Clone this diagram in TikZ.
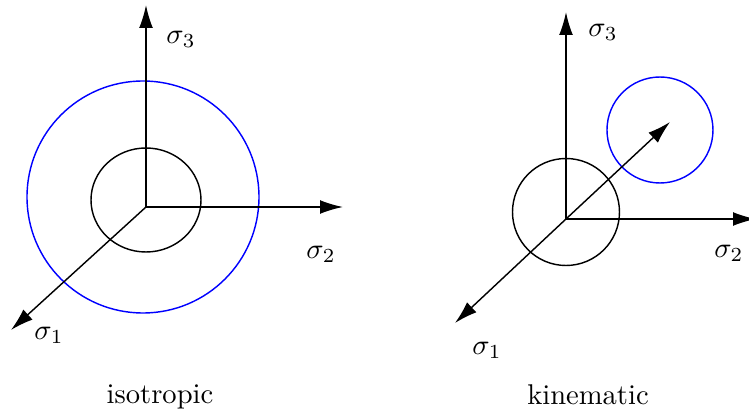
\documentclass[tikz,border=0pt]{standalone}
\usetikzlibrary{arrows.meta}
\begin{document}
\begin{tikzpicture}[x=0.35pt,y=-0.35pt,
  axis/.style={line width=0.5pt,-{Latex[length=8pt,width=4.8pt]}},
  curve/.style={line width=0.5pt},
  lbl/.style={inner sep=0pt}]
\useasboundingbox (0,0) rectangle (749,415);
% left diagram
\coordinate (oL) at (146,207);
\coordinate (zL) at (146,5);
\coordinate (yL) at (343,207);
\coordinate (xL) at (11,330);
\draw[curve,blue] (143,197) circle [radius=116];
\draw[curve] (146,200) ellipse [x radius=55,y radius=52];
\draw[axis] (oL) -- (zL);
\draw[axis] (oL) -- (yL);
\draw[axis] (oL) -- (xL);
\node[lbl] (s3L) at (181,39) {$\sigma_3$};
\node[lbl] (s2L) at (321,254) {$\sigma_2$};
\node[lbl] (s1L) at (49,335) {$\sigma_1$};
\node[lbl] (capL) at (160,397) {isotropic};
% right diagram
\coordinate (oR) at (566,219);
\coordinate (zR) at (566,12);
\coordinate (yR) at (756,219);
\coordinate (xR) at (455,323);
\coordinate (aR) at (670,122);
\draw[curve,blue] (660,130) circle [radius=53];
\draw[curve] (566,212) circle [radius=53.5];
\draw[axis] (oR) -- (zR);
\draw[axis] (oR) -- (yR);
\draw[axis] (oR) -- (xR);
\draw[axis] (oR) -- (aR);
\node[lbl] (s3R) at (603,32) {$\sigma_3$};
\node[lbl] (s2R) at (729,253) {$\sigma_2$};
\node[lbl] (s1R) at (487,350) {$\sigma_1$};
\node[lbl] (capR) at (588,395) {kinematic};
\end{tikzpicture}
\end{document}
